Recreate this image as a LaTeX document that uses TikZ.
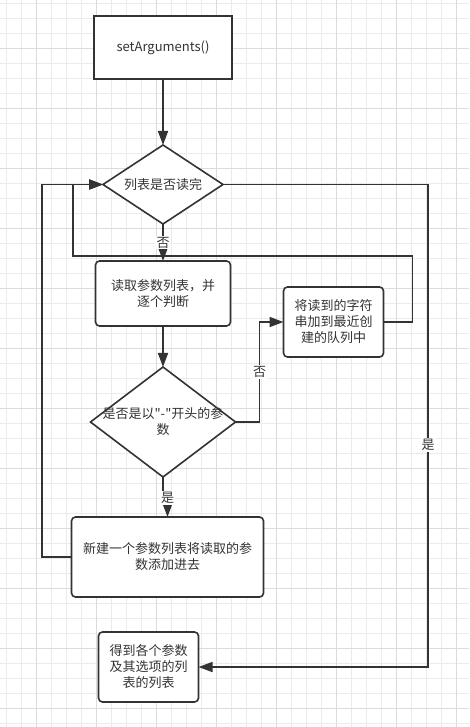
\documentclass[tikz,border=0pt]{standalone}
\usepackage{fontspec}
\setmainfont[Ligatures=TeXOff]{Noto Sans CJK SC}
\usetikzlibrary{arrows.meta,shapes.geometric,positioning}

\definecolor{strokegray}{HTML}{333333}
\definecolor{gridminor}{HTML}{EBEBEB}
\definecolor{gridmajor}{HTML}{DCDCDC}
\newcommand{\boxfont}{\fontsize{13pt}{16pt}\selectfont}

\begin{document}
\begin{tikzpicture}[->,>={Triangle[length=14pt,width=10pt]},x=1pt,y=-1pt,
                    line width=1.6pt,color=strokegray]
\tikzstyle{gridfine}=[-,line width=0.8pt,draw=gridminor]
\tikzstyle{gridbold}=[-,line width=0.8pt,draw=gridmajor]
\tikzstyle{proc}=[rectangle,line width=1.6pt,draw=strokegray,fill=white,inner sep=0pt,outer sep=0pt,align=center,font=\boxfont]
\tikzstyle{proc_round}=[proc,rounded corners=4pt]
\tikzstyle{decision}=[diamond,line width=1.6pt,draw=strokegray,fill=white,inner sep=0pt,outer sep=0pt]
\tikzstyle{diatext}=[align=center,font=\boxfont,text=strokegray,inner sep=0pt]
\tikzstyle{lbl}=[fill=white,inner sep=1pt,font=\boxfont,text=strokegray]

\useasboundingbox (0,0) rectangle (469,727);
\fill[white] (0,0) rectangle (469,727);

% grid
\foreach \gx in {6.7,21.7,...,469} {\draw[gridfine] (\gx,0) -- (\gx,727);}
\foreach \gy in {3.3,18.3,...,727} {\draw[gridfine] (0,\gy) -- (469,\gy);}
\foreach \gx in {36.7,96.7,...,469} {\draw[gridbold] (\gx,0) -- (\gx,727);}
\foreach \gy in {48.3,108.3,...,727} {\draw[gridbold] (0,\gy) -- (469,\gy);}

\node[proc, minimum width=138pt, minimum height=63pt] (setargs) at (163,47.5) {setArguments()};
\node[decision, minimum width=120pt, minimum height=79pt,
      label={[diatext]center:列表是否读完}] (listdone) [below=66pt of setargs] {};
\node[proc_round, minimum width=135pt, minimum height=65pt] (readlist) [below=37pt of listdone] {读取参数列表，并\\逐个判断};
\node[decision, minimum width=145pt, minimum height=110pt,
      label={[diatext]center:{是否是以"-"开头的参\\数}}] (isdash) [below=41pt of readlist] {};
\node[proc_round, minimum width=100pt, minimum height=70pt] (append) [right=48pt of isdash, yshift=100pt] {将读到的字符\\串加到最近创\\建的队列中};
\node[proc_round, minimum width=192pt, minimum height=80pt] (newlist) [below=40pt of isdash, xshift=4.5pt] {新建一个参数列表将读取的参\\数添加进去};
\node[proc_round, minimum width=100pt, minimum height=70pt] (result) [below=35pt of newlist, xshift=-19pt] {得到各个参数\\及其选项的列\\表的列表};

\draw[->] (setargs) -- (listdone);
\draw[->] (listdone) -- node[lbl] {否} (readlist);
\draw[->] (readlist) -- (isdash);
\draw[->] (isdash.east) -- ++(24,0) |- node[lbl, pos=0.25] {否} (append.west);
\draw[->] (isdash.south) -- ++(0,21) -| node[lbl, pos=0.5] {是} (newlist.north);
\draw[->] (append.east) -| ++(29,-66) -| ([xshift=-30pt]listdone.west) -- (listdone.west);
\draw[->] (newlist.west) -| ([xshift=-61pt]listdone.west) -- (listdone.west);
\draw[->] (listdone.east) -| node[lbl, pos=0.77] {是} ([xshift=229.5pt]result.east) -- (result.east);
\end{tikzpicture}
\end{document}
